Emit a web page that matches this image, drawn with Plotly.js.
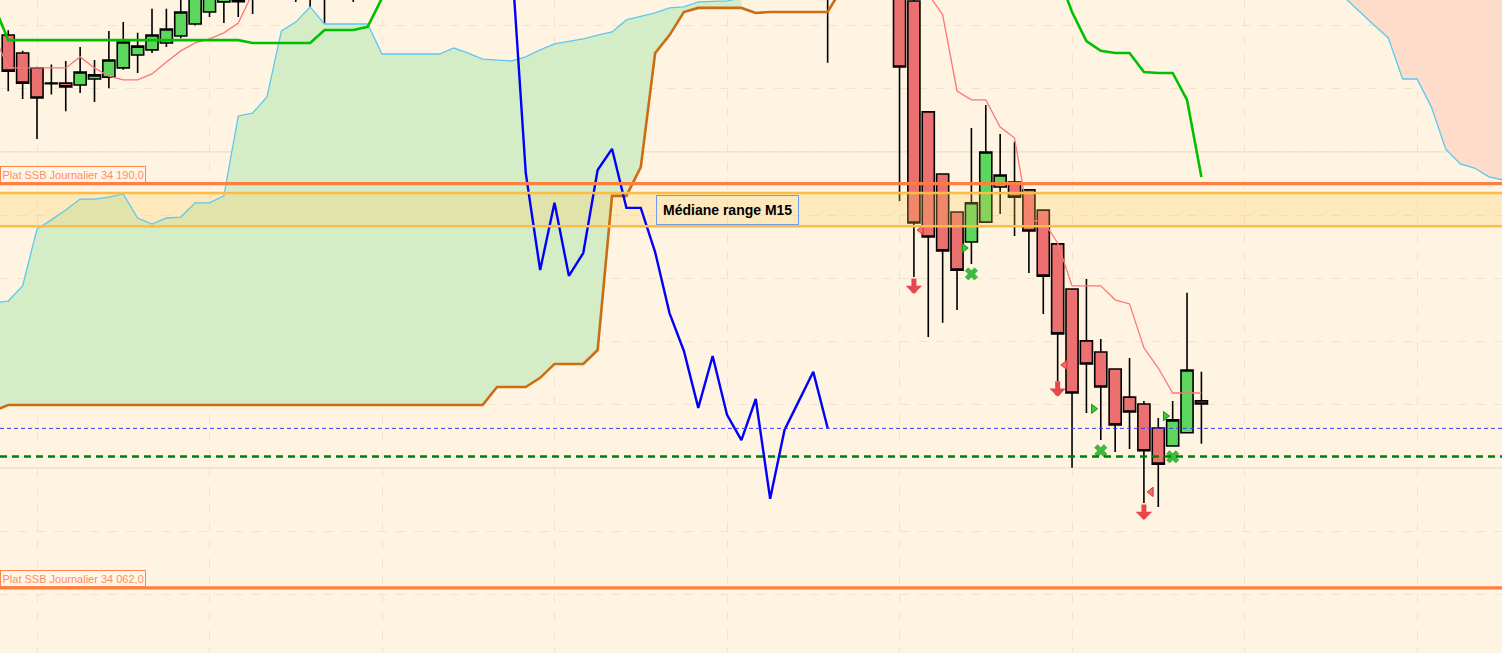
<!DOCTYPE html>
<html>
<head>
<meta charset="utf-8">
<script src="https://cdn.plot.ly/plotly-3.0.1.min.js"></script>
<style>
  html, body { margin:0; padding:0; background:#FEF4E1; overflow:hidden; }
  #chart { width:1502px; height:653px; }
</style>
</head>
<body>
<div id="chart"></div>
<script>
// ── M15 candles (x = bar index, grid every 12 bars) ──────────────────────────
const barIdx   = [-2,-1,0,1,2,3,4,5,6,7,8,9,10,11,12,13,14,15,18,19,20,22,55,
                  60,61,62,63,64,65,66,67,68,69,70,71,72,73,74,75,76,77,78,79,80,81];
const barOpen  = [34237.0,34231.3,34226.6,34221.8,34221.8,34221.2,34223.1,34223.7,34226.6,34230.7,34232.3,34234.5,34236.7,34240.5,34244.3,34247.5,34248.0,34248.8,
                  34262,34255,34258,34265,34262,
                  34262,34247.8,34212.7,34193.0,34181.0,34171.5,34177.8,34188.9,34190.5,34188.0,34181.6,34170.9,34156.6,34140.2,34136.7,34131.3,34122.4,34120.2,34112.6,34106.9,34111.1,34121.2];
const barHigh  = [34238.5,34232.0,34227.0,34227.7,34228.8,34233.2,34229.1,34238.3,34241.1,34237.7,34245.3,34245.3,34252.0,34256.0,34258.0,34259.0,34256.0,34257.0,
                  34268,34266,34270,34272,34275,
                  34270,34252.0,34213.0,34193.0,34181.0,34207.6,34214.9,34205.7,34203.2,34188.0,34181.6,34170.9,34156.6,34159.8,34140.8,34131.3,34134.8,34121.2,34115.8,34121.2,34155.4,34130.4];
const barLow   = [34219.2,34216.8,34204.1,34218.2,34212.9,34218.7,34215.8,34220.2,34226.0,34225.0,34231.3,34233.2,34236.0,34240.0,34242.7,34240.8,34242.7,34243.7,
                  34247.5,34245.9,34240.2,34247.5,34228.2,
                  34184.5,34160.4,34141.4,34145.9,34150.0,34164.5,34177.8,34180.4,34173.4,34161.7,34148.7,34127.5,34100.0,34117.4,34108.8,34105.0,34106.0,34088.9,34087.6,34106.9,34111.1,34107.6];
const barClose = [34225.6,34221.8,34217.1,34221.6,34220.6,34225.3,34224.4,34229.1,34234.8,34233.5,34237.0,34238.9,34244.3,34251.0,34253.0,34254.0,34247.6,34248.4,
                  34256,34260,34262,34260,34258,
                  34226.9,34177.5,34173.1,34168.7,34162.6,34183.9,34200.0,34192.7,34185.7,34175.0,34160.7,34142.4,34123.7,34132.9,34125.6,34113.6,34117.7,34105.4,34101.2,34115.2,34131.0,34120.2];

// ── Ichimoku lines ───────────────────────────────────────────────────────────
const tenkanIdx = [-3,-2,-1,0,1,2,3,4,5,6,7,8,9,10,11,12,13,14,15,16,
                   62,63,64,65,66,67,68,69,70,71,72,73,74,75,76,77,78,79,80,81];
const tenkan    = [34237.0,34226.6,34226.6,34226.6,34226.6,34226.6,34230.1,34226.6,34224.0,34222.8,34222.8,34224.7,34228.5,34232.0,34234.5,34235.8,34237.7,34240.8,34250.3,null,
                   34250.0,34243.4,34219.3,34216.5,34216.5,34207.9,34204.4,34178.2,34178.2,34171.2,34157.6,34157.6,34157.6,34153.2,34151.9,34138.0,34131.6,34123.7,34123.7,34123.7];

const kijunIdx  = [-3,-2,-1,0,1,2,3,4,5,6,7,8,9,10,11,12,13,14,15,16,17,18,19,20,21,22,23,24,25,
                   71,72,73,74,75,76,77,78,79,80,81];
const kijun     = [34246.5,34235.4,34235.4,34235.4,34235.4,34235.4,34235.4,34235.4,34235.4,34235.4,34235.4,34235.4,34235.4,34235.4,34235.4,34235.4,34235.4,34235.4,
                   34234.5,34234.5,34234.5,34234.5,34234.5,34238.6,34238.6,34238.6,34239.6,34248.7,null,
                   34256.6,34244.3,34235.1,34232.0,34231.3,34231.3,34225.3,34225.0,34225.0,34216.5,34192.1];

const chikouIdx = [33,34,35,36,37,38,39,40,41,42,43,44,45,46,47,48,49,50,51,52,53,54,55];
const chikou    = [34262.3,34193.3,34162.6,34183.9,34160.8,34168.0,34194.3,34201.0,34182.3,34182.3,34168.3,34149.0,34137.0,34119.0,34135.4,34116.8,34108.8,34121.8,34090.2,34112.0,34121.2,34130.4,34112.6];

// Senkou span A (cyan) and B (brown), left part of the cloud
const ssaLeftIdx = [-3,-2,-1,0,1,2,3,4,5,6,7,8,9,10,11,12,13,14,15,16,17,18,19,20,21,22,23,24,25,26,27,28,29,30,31,32,33,34,35,36,37,38,39,40,41,42,43,44,45,46,47,48,49];
const ssaLeft    = [34152.2,34152.8,34157.6,34175.6,34178.5,34181.6,34185.1,34185.1,34185.7,34186.7,34179.1,34177.2,34179.1,34179.4,34183.9,34183.9,34186.1,34211.4,34212.3,34217.4,
                    34238.3,34241.1,34245.9,34240.5,34240.5,34240.5,34240.5,34231.0,34231.0,34231.0,34231.0,34231.0,34232.9,34231.3,34229.4,34229.1,34228.8,34230.1,34232.3,34234.2,
                    34235.1,34235.8,34237.0,34238.0,34241.8,34243.0,34244.0,34245.6,34245.9,34247.5,34247.6,34247.8,34248.8];
const ssbLeftIdx = [-3,-2,-1,0,1,2,3,4,5,6,7,8,9,10,11,12,13,14,15,16,17,18,19,20,21,22,23,24,25,26,27,28,29,30,31,32,33,34,35,36,37,38,39,40,41,42,43,44,45,46,47,48,49,50,51,52,53,54,55,56];
const ssbLeft    = [34118.0,34119.9,34119.9,34119.9,34119.9,34119.9,34119.9,34119.9,34119.9,34119.9,34119.9,34119.9,34119.9,34119.9,34119.9,34119.9,34119.9,34119.9,34119.9,34119.9,
                    34119.9,34119.9,34119.9,34119.9,34119.9,34119.9,34119.9,34119.9,34119.9,34119.9,34119.9,34119.9,34119.9,34119.9,34119.9,34125.6,34125.6,34125.6,34128.5,34132.9,
                    34132.9,34132.9,34137.3,34186.1,34186.1,34195.2,34231.3,34237.0,34244.3,34245.6,34245.6,34245.6,34245.6,34244.0,34244.3,34244.3,34244.3,34244.3,34244.3,34251.9];
// right part: span A comes back into view, span B stays above the window
const ssaRightIdx = [91,92,93,94,95,96,97,98,99,100,101,102];
const ssaRight    = [34248.7,34244.3,34240.2,34236.1,34223.1,34223.1,34214.2,34200.9,34196.2,34194.9,34192.1,34191.1];
const ssbRight    = [34262,34262,34262,34262,34262,34262,34262,34262,34262,34262,34262,34262];

// ── Levels ───────────────────────────────────────────────────────────────────
const ssbDailyLevels = [34190.0, 34062.0];
const medianBand     = [34176.5, 34187.0];
const lastPrice      = 34112.5;
const greenLevel     = 34103.6;
const majorGrid      = [34100, 34200];

// ── Signals ──────────────────────────────────────────────────────────────────
const sellArrowIdx = [61, 71, 77];
const sellArrowTip = [34155.0, 34122.5, 34083.5];
const redTriIdx    = [61.5, 71.5, 77.5];
const redTriY      = [34175.3, 34132.6, 34092.4];
const greenTriIdx  = [64.5, 73.5, 78.5];
const greenTriY    = [34169.6, 34118.7, 34116.4];
const crossIdx     = [65, 74, 79];
const crossY       = [34161.4, 34105.4, 34103.5];

const X_RANGE = [-2.574, 101.91];
const Y_RANGE = [34041.4, 34248.1];

const fmtLevel = v => { const s = v.toFixed(1).replace('.', ','); return s.slice(0, 2) + ' ' + s.slice(2); };
const line = (x, y, color, width, extra) => ({ type:'scatter', mode:'lines', x, y, hoverinfo:'skip',
  connectgaps:false, line:{ color, width, ...(extra || {}) } });

const nGreen = ssaLeft.length;
const traces = [
  // cloud fills
  { type:'scatter', mode:'lines', x:ssbLeftIdx.slice(0, nGreen), y:ssbLeft.slice(0, nGreen), line:{ width:0 }, hoverinfo:'skip' },
  { type:'scatter', mode:'lines', x:ssaLeftIdx, y:ssaLeft, fill:'tonexty', fillcolor:'#D5EDC7', line:{ width:0 }, hoverinfo:'skip' },
  { type:'scatter', mode:'lines', x:ssaRightIdx, y:ssaRight, line:{ width:0 }, hoverinfo:'skip' },
  { type:'scatter', mode:'lines', x:ssaRightIdx, y:ssbRight, fill:'tonexty', fillcolor:'#FDDCCA', line:{ width:0 }, hoverinfo:'skip' },
  // median range band fill
  { type:'scatter', mode:'lines', x:[X_RANGE[0], X_RANGE[1], X_RANGE[1], X_RANGE[0]],
    y:[medianBand[0], medianBand[0], medianBand[1], medianBand[1]], fill:'toself',
    fillcolor:'rgba(255,200,90,0.26)', line:{ width:0 }, hoverinfo:'skip' },
  line(ssbLeftIdx, ssbLeft, '#CC6D12', 2.6),
  line(ssaLeftIdx, ssaLeft, '#5CC8F2', 1.3),
  line(ssaRightIdx, ssaRight, '#5CC8F2', 1.3),
  line(tenkanIdx, tenkan, '#FF7676', 1.3),
  { type:'candlestick', x:barIdx, open:barOpen, high:barHigh, low:barLow, close:barClose,
    whiskerwidth:0, hoverinfo:'skip',
    increasing:{ fillcolor:'#5CD65C', line:{ color:'#000000', width:1.6 } },
    decreasing:{ fillcolor:'#EC7070', line:{ color:'#000000', width:1.6 } } },
  line(kijunIdx, kijun, '#00C000', 2.6),
  line(chikouIdx, chikou, '#0000FF', 2.4),
  { type:'scatter', mode:'markers', x:redTriIdx, y:redTriY, hoverinfo:'skip',
    marker:{ symbol:'triangle-left', size:8, color:'#F07070', line:{ color:'#D83030', width:1 } } },
  { type:'scatter', mode:'markers', x:greenTriIdx, y:greenTriY, hoverinfo:'skip',
    marker:{ symbol:'triangle-right', size:8, color:'#3CC83C', line:{ color:'#129012', width:1 } } },
  { type:'scatter', mode:'markers', x:crossIdx, y:crossY, hoverinfo:'skip',
    marker:{ symbol:'x', size:11, color:'#3DBB3D', line:{ color:'#2AA02A', width:0.5 } } },
];

const hline = (y, color, width, dash) => ({ type:'line', xref:'paper', x0:0, x1:1, yref:'y', y0:y, y1:y,
  layer:'above', line:{ color, width, dash:dash || 'solid' } });

const shapes = [
  ...majorGrid.map(v => ({ type:'line', xref:'paper', x0:0, x1:1, yref:'y', y0:v, y1:v, layer:'below',
    line:{ color:'#EADDC8', width:1.2 } })),
  hline(medianBand[0], '#FFBC45', 2.5),
  hline(medianBand[1], '#FFBC45', 2.5),
  hline(lastPrice, '#3A3AF5', 1, '4px,3px'),
  hline(greenLevel, '#008000', 2.5, '7px,5px'),
  ...ssbDailyLevels.map(v => hline(v, '#FF7F40', 3.2)),
];

const annotations = [
  ...ssbDailyLevels.map(v => ({ xref:'paper', x:0, xanchor:'left', y:v, yanchor:'bottom', yshift:1,
    text:'Plat SSB Journalier ' + fmtLevel(v), showarrow:false,
    font:{ family:'Arial, Liberation Sans, sans-serif', size:11, color:'#FF8C66' },
    bgcolor:'#FFF6E6', bordercolor:'#FF8447', borderwidth:1, borderpad:1.5 })),
  { x:48, y:(medianBand[0] + medianBand[1]) / 2, text:'<b>Médiane range M15</b>', showarrow:false,
    font:{ family:'Arial, Liberation Sans, sans-serif', size:14, color:'#000000' },
    bgcolor:'rgba(0,0,0,0)', bordercolor:'#6E9CF2', borderwidth:1, borderpad:6 },
  ...sellArrowIdx.map((x, k) => ({ x, y:sellArrowTip[k], text:'', showarrow:true, arrowhead:1,
    arrowsize:0.55, arrowwidth:5, arrowcolor:'#E8484B', ax:0, ay:-17 })),
];

Plotly.newPlot('chart', traces, {
  width:1502, height:653, margin:{ l:0, r:0, t:0, b:0, pad:0 },
  paper_bgcolor:'#FEF4E1', plot_bgcolor:'#FEF4E1',
  showlegend:false, hovermode:false, boxgap:0.16, boxgroupgap:0,
  xaxis:{ range:X_RANGE, showticklabels:false, ticks:'', zeroline:false, showline:false,
          tick0:0, dtick:12, gridcolor:'#F1E4CF', griddash:'dash', gridwidth:1,
          rangeslider:{ visible:false }, fixedrange:true },
  yaxis:{ range:Y_RANGE, showticklabels:false, ticks:'', zeroline:false, showline:false,
          tick0:34000, dtick:20, gridcolor:'#F1E4CF', griddash:'dash', gridwidth:1, fixedrange:true },
  shapes, annotations,
}, { staticPlot:true, displayModeBar:false });
</script>
</body>
</html>
